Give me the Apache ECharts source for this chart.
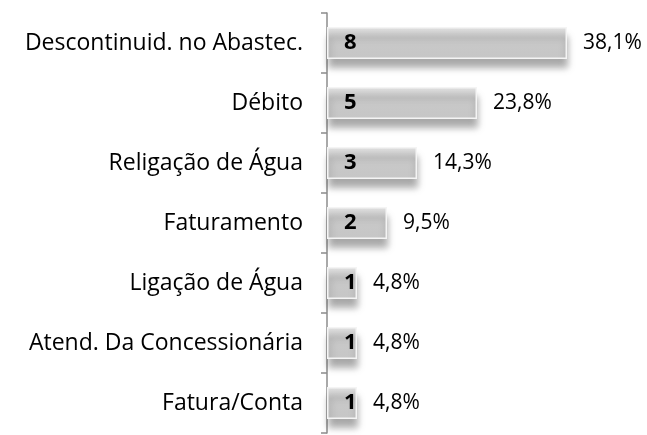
<!DOCTYPE html>
<html>
<head>
<meta charset="utf-8">
<script src="https://cdn.jsdelivr.net/npm/echarts@6/dist/echarts.min.js"></script>
<style>
  html, body { margin: 0; padding: 0; background: #fff; }
  #chart { width: 647px; height: 435px; }
</style>
</head>
<body>
<div id="chart"></div>
<script>
const categories = [
  'Descontinuid. no Abastec.',
  'Débito',
  'Religação de Água',
  'Faturamento',
  'Ligação de Água',
  'Atend. Da Concessionária',
  'Fatura/Conta'
]
const counts = [8, 5, 3, 2, 1, 1, 1]
const percents = ['38,1%', '23,8%', '14,3%', '9,5%', '4,8%', '4,8%', '4,8%']

const chart = echarts.init(document.getElementById('chart'))

const barFill = new echarts.graphic.LinearGradient(0, 0, 0, 1, [
  { offset: 0, color: '#e2e2e2' },
  { offset: 0.35, color: '#c9c9c9' },
  { offset: 1, color: '#c6c6c6' }
])

chart.setOption({
  animation: false,
  textStyle: { fontFamily: 'Open Sans' },
  grid: { left: 327, top: 13, width: 300, height: 420 },
  xAxis: {
    type: 'value',
    min: 0,
    max: 10,
    show: false
  },
  yAxis: {
    type: 'category',
    inverse: true,
    data: categories,
    axisLine: { show: true, lineStyle: { color: '#8c8c8c', width: 1.5 } },
    axisTick: { show: true, length: 6, lineStyle: { color: '#8c8c8c', width: 1.5 } },
    axisLabel: { color: '#000', fontSize: 23, margin: 24, fontFamily: 'Open Sans' }
  },
  series: [
    {
      type: 'bar',
      data: counts,
      barWidth: 32,
      itemStyle: {
        color: barFill,
        borderColor: '#f4f4f4',
        borderWidth: 1.5,
        shadowColor: 'rgba(0,0,0,0.35)',
        shadowBlur: 7,
        shadowOffsetY: 9,
        shadowOffsetX: 1
      },
      label: {
        show: true,
        position: 'insideLeft',
        distance: 17,
        color: '#000',
        fontWeight: 'bold',
        fontSize: 22,
        fontFamily: 'Open Sans'
      },
      z: 2
    },
    {
      type: 'bar',
      data: counts,
      barWidth: 32,
      barGap: '-100%',
      itemStyle: { color: 'transparent' },
      label: {
        show: true,
        position: 'right',
        distance: 16,
        color: '#000',
        fontSize: 21,
        fontFamily: 'Open Sans',
        formatter: p => percents[p.dataIndex]
      },
      z: 3
    }
  ]
})
</script>
</body>
</html>
